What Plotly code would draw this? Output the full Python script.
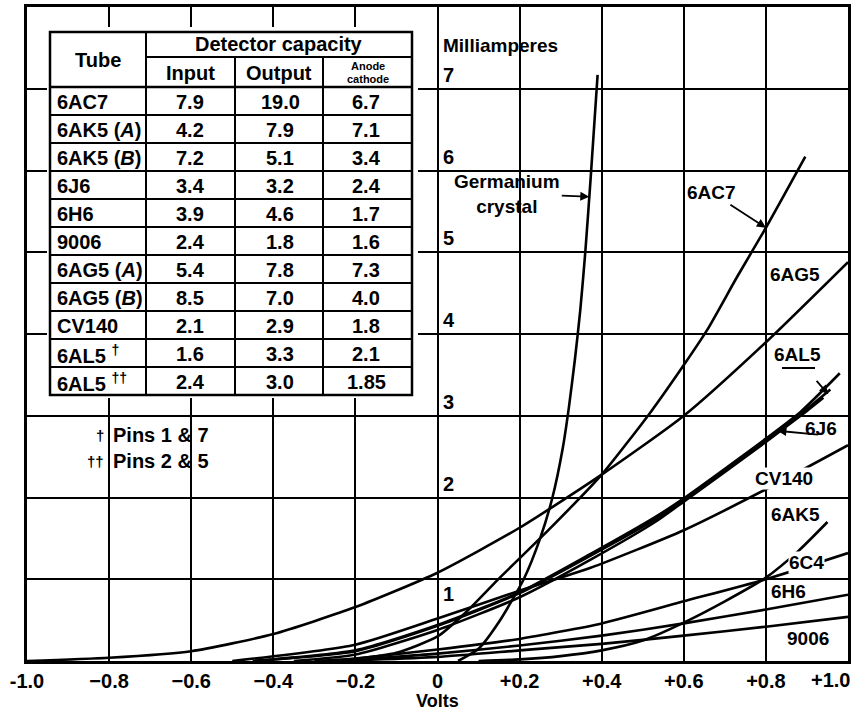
import numpy as np
import plotly.graph_objects as go

# ---- table data ----
tubes = ["6AC7", "6AK5 (<i>A</i>)", "6AK5 (<i>B</i>)", "6J6", "6H6", "9006",
         "6AG5 (<i>A</i>)", "6AG5 (<i>B</i>)", "CV140", "6AL5 <sup>†</sup>", "6AL5 <sup>††</sup>"]
cap_input = ["7.9", "4.2", "7.2", "3.4", "3.9", "2.4", "5.4", "8.5", "2.1", "1.6", "2.4"]
cap_output = ["19.0", "7.9", "5.1", "3.2", "4.6", "1.8", "7.8", "7.0", "2.9", "3.3", "3.0"]
cap_anode = ["6.7", "7.1", "3.4", "2.4", "1.7", "1.6", "7.3", "4.0", "1.8", "2.1", "1.85"]

# ---- curves (volts, milliamperes) ----
ge_v = [0.05, 0.10, 0.15, 0.21, 0.25, 0.28, 0.305, 0.32, 0.335, 0.348, 0.36, 0.373, 0.39]
ge_ma = [0.0, 0.15, 0.48, 1.0, 1.5, 2.0, 2.6, 3.1, 3.7, 4.3, 5.0, 5.9, 7.17]

ac7_v = [-0.30, -0.20, -0.10, 0.0, 0.07, 0.146, 0.27, 0.40, 0.52, 0.60, 0.657, 0.73, 0.80, 0.896]
ac7_ma = [0.0, 0.03, 0.10, 0.30, 0.60, 0.99, 1.60, 2.28, 3.05, 3.62, 4.05, 4.70, 5.30, 6.17]

ag5_v = [-1.0, -0.8, -0.6, -0.4, -0.2, 0.0, 0.2, 0.4, 0.6, 0.8, 1.0]
ag5_ma = [0.0, 0.04, 0.12, 0.33, 0.66, 1.08, 1.63, 2.28, 3.0, 3.9, 4.88]

al5a_v = [-0.45, -0.2, 0.0, 0.2, 0.373, 0.53, 0.6, 0.8, 0.885, 0.98]
al5a_ma = [0.0, 0.13, 0.44, 0.84, 1.31, 1.76, 1.99, 2.72, 3.05, 3.52]

al5b_v = [-0.45, -0.2, 0.0, 0.2, 0.373, 0.53, 0.6, 0.8, 0.885, 0.957]
al5b_ma = [0.0, 0.12, 0.43, 0.83, 1.29, 1.73, 1.97, 2.70, 3.02, 3.32]

j6_v = [-0.35, -0.2, 0.0, 0.2, 0.373, 0.53, 0.6, 0.8, 0.9, 0.94]
j6_ma = [0.0, 0.08, 0.38, 0.78, 1.24, 1.70, 1.95, 2.68, 3.06, 3.22]

cv140_v = [-0.5, -0.2, 0.0, 0.2, 0.373, 0.6, 0.8, 1.0]
cv140_ma = [0.0, 0.2, 0.52, 0.86, 1.14, 1.6, 2.1, 2.64]

ak5_v = [0.1, 0.2, 0.3, 0.4, 0.5, 0.6, 0.7, 0.8, 0.88, 0.95]
ak5_ma = [0.0, 0.02, 0.06, 0.13, 0.25, 0.47, 0.73, 1.02, 1.35, 1.70]

c4_v = [-0.25, 0.0, 0.2, 0.4, 0.6, 0.8, 1.0]
c4_ma = [0.0, 0.14, 0.27, 0.46, 0.73, 1.0, 1.32]

h6_v = [-0.25, 0.0, 0.2, 0.4, 0.6, 0.8, 1.0]
h6_ma = [0.0, 0.09, 0.19, 0.31, 0.46, 0.63, 0.81]

t9006_v = [-0.25, 0.0, 0.2, 0.4, 0.6, 0.8, 1.0]
t9006_ma = [0.0, 0.05, 0.13, 0.21, 0.31, 0.42, 0.54]

xtick_vals = [-1.0, -0.8, -0.6, -0.4, -0.2, 0.0, 0.2, 0.4, 0.6, 0.8, 1.0]
xtick_text = ["-1.0", "−0.8", "−0.6", "−0.4", "−0.2", "0", "+0.2", "+0.4", "+0.6", "+0.8", "+1.0"]
ytick_vals = [1, 2, 3, 4, 5, 6, 7]

FONT = "Liberation Sans, Arial, sans-serif"
W, H = 858, 714
L, R, T, B = 27, 10, 7, 53


def px(x):
    return (x - L) / (W - L - R)


def py(y):
    return (H - B - y) / (H - T - B)


fig = go.Figure()

curves = [(ge_v, ge_ma), (ac7_v, ac7_ma), (ag5_v, ag5_ma), (al5a_v, al5a_ma),
          (al5b_v, al5b_ma), (j6_v, j6_ma), (cv140_v, cv140_ma), (ak5_v, ak5_ma),
          (c4_v, c4_ma), (h6_v, h6_ma), (t9006_v, t9006_ma)]
for xv, yv in curves:
    fig.add_trace(go.Scatter(x=xv, y=yv, mode="lines", showlegend=False, hoverinfo="skip",
                             line=dict(color="black", width=2.6, shape="spline", smoothing=0.6)))

shapes = []
anns = []

# white box over the grid behind the table
shapes.append(dict(type="rect", xref="paper", yref="paper", x0=px(47), x1=px(418), y0=py(398), y1=py(27),
                   fillcolor="white", line=dict(width=0), layer="above"))
# table frame
shapes.append(dict(type="rect", xref="paper", yref="paper", x0=px(50), x1=px(412), y0=py(395), y1=py(32),
                   line=dict(color="black", width=2.5), layer="above"))


def hline(x0, x1, y, w=2):
    shapes.append(dict(type="line", xref="paper", yref="paper", x0=px(x0), x1=px(x1), y0=py(y), y1=py(y),
                       line=dict(color="black", width=w), layer="above"))


def vline(x, y0, y1, w=2):
    shapes.append(dict(type="line", xref="paper", yref="paper", x0=px(x), x1=px(x), y0=py(y0), y1=py(y1),
                       line=dict(color="black", width=w), layer="above"))


def txt(x, y, s, size=20, xanchor="center"):
    anns.append(dict(xref="paper", yref="paper", x=px(x), y=py(y), text="<b>" + s + "</b>", showarrow=False,
                     xanchor=xanchor, yanchor="middle", font=dict(family=FONT, size=size, color="black")))


row0, rowh = 87, 28
vline(146, 32, 395)
vline(235, 57, 395)
vline(323, 57, 395)
hline(146, 412, 57)
hline(50, 412, row0, 2.5)
for k in range(1, len(tubes)):
    hline(50, 412, row0 + rowh * k)

txt(98, 60, "Tube")
txt(279, 44, "Detector capacity")
txt(190, 73, "Input")
txt(279, 73, "Output")
txt(368, 66, "Anode", size=11)
txt(368, 79, "cathode", size=11)
for k in range(len(tubes)):
    yc = row0 + rowh * k + 15
    txt(55, yc, tubes[k], xanchor="left")
    txt(190, yc, cap_input[k])
    txt(280, yc, cap_output[k])
    txt(366, yc, cap_anode[k])

# footnotes
txt(106, 435, "†", size=15, xanchor="right")
txt(111, 435, "Pins 1 &amp; 7", xanchor="left")
txt(106, 461, "††", size=15, xanchor="right")
txt(111, 461, "Pins 2 &amp; 5", xanchor="left")

# y labels along the zero line
for v in ytick_vals:
    anns.append(dict(x=0.0, y=v, xref="x", yref="y", text="<b>%d</b>" % v, showarrow=False,
                     xanchor="left", yanchor="middle", xshift=3, yshift=(-15 if v == 1 else 14),
                     font=dict(family=FONT, size=20, color="black")))
txt(441, 46, "Milliamperes", size=19, xanchor="left")
txt(437, 701, "Volts", size=18)

# last x tick label sits flush with the right edge
anns.append(dict(x=xtick_vals[-1], y=py(680), xref="x", yref="paper", text="<b>%s</b>" % xtick_text[-1],
                 showarrow=False, xanchor="right", yanchor="middle", xshift=4,
                 font=dict(family=FONT, size=20, color="black")))

# curve labels
lab = dict(family=FONT, size=19, color="black")
arr = dict(showarrow=True, arrowhead=2, arrowsize=1, arrowwidth=1.8, arrowcolor="black")
ge_head = 5.68
anns.append(dict(x=float(np.interp(ge_head, ge_ma, ge_v)), y=ge_head, xref="x", yref="y",
                 text="<b>Germanium<br>crystal</b>", ax=-82, ay=-3, font=lab, align="center", **arr))
anns.append(dict(x=0.8, y=float(np.interp(0.8, ac7_v, ac7_ma)), xref="x", yref="y", text="<b>6AC7</b>",
                 ax=-54, ay=-35, font=lab, **arr))
txt(795, 275, "6AG5", size=19)
txt(797, 355, "6AL5", size=19)
hline(782, 815, 368, 1.8)
anns.append(dict(x=0.952, y=float(np.interp(0.952, al5a_v, al5a_ma)) - 0.12, xref="x", yref="y", text="",
                 ax=-13, ay=-15, **arr))
txt(821, 428, "6J6", size=19)
anns.append(dict(x=0.828, y=float(np.interp(0.828, j6_v, j6_ma)) + 0.03, xref="x", yref="y", text="",
                 ax=42, ay=4, **arr))
anns.append(dict(xref="paper", yref="paper", x=px(814), y=py(490), text="<b>CV140</b>", showarrow=False,
                 bgcolor="white", borderpad=0, font=lab))
txt(795, 514, "6AK5", size=19)
anns.append(dict(xref="paper", yref="paper", x=px(825), y=py(574), text="<b>6C4</b>", showarrow=False,
                 bgcolor="white", borderpad=0, font=lab))
txt(788, 591, "6H6", size=19)
txt(808, 638, "9006", size=19)

fig.update_layout(
    width=W, height=H, margin=dict(l=L, r=R, t=T, b=B, autoexpand=False),
    paper_bgcolor="white", plot_bgcolor="white",
    shapes=shapes, annotations=anns, showlegend=False,
    xaxis=dict(range=[-1, 1], tickvals=xtick_vals,
               ticktext=["<b>%s</b>" % t for t in xtick_text[:-1]] + [""],
               tickfont=dict(family=FONT, size=20, color="black"), ticks="", automargin=False,
               showgrid=True, gridcolor="black", gridwidth=2, zeroline=False,
               showline=True, mirror=True, linecolor="black", linewidth=3),
    yaxis=dict(range=[0, 8], dtick=1, showticklabels=False, ticks="", automargin=False,
               showgrid=True, gridcolor="black", gridwidth=2, zeroline=False,
               showline=True, mirror=True, linecolor="black", linewidth=3),
)

fig.write_html("out.html", config={"displayModeBar": False},
               post_script="document.body.style.margin='0';document.body.style.overflow='hidden';")
